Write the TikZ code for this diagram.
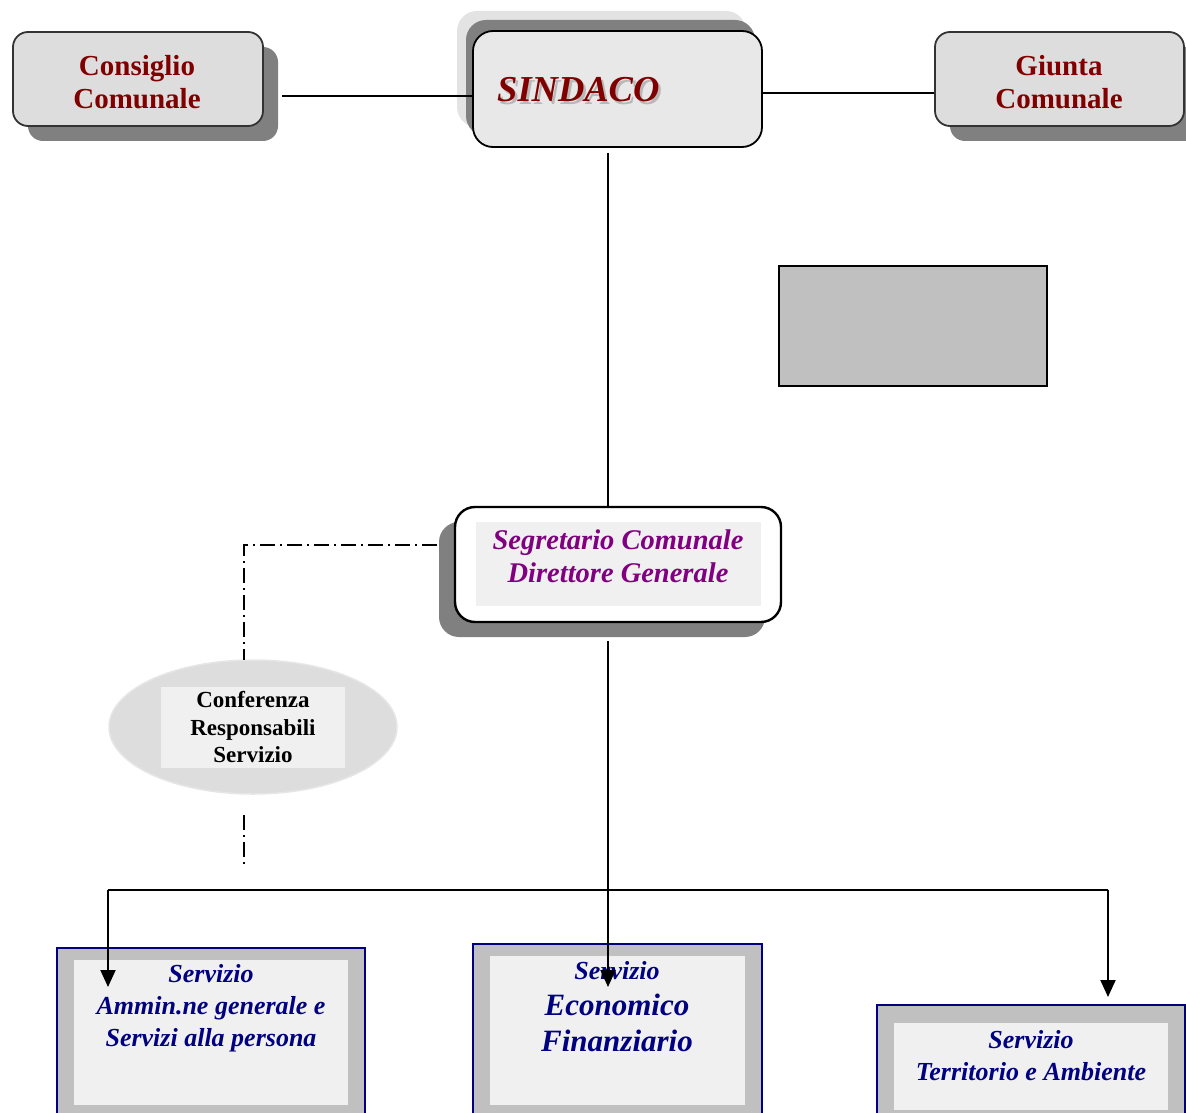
\documentclass[tikz,border=0pt]{standalone}
\usepackage{fontspec}
\setmainfont{Liberation Serif}
\usetikzlibrary{shadows,arrows.meta,shapes.geometric}
\definecolor{boxgray}{HTML}{DDDDDD}
\definecolor{sindgray}{HTML}{E8E8E8}
\definecolor{shadowgray}{HTML}{808080}
\definecolor{lightshadow}{HTML}{E3E3E3}
\definecolor{darkred}{HTML}{800000}
\definecolor{purpletxt}{HTML}{800080}
\definecolor{navytxt}{HTML}{000080}
\definecolor{innerfill}{HTML}{F0F0F0}
\definecolor{midgray}{HTML}{C0C0C0}
\definecolor{ellgray}{HTML}{DDDDDD}
\definecolor{ellborder}{HTML}{E6E6E6}
\definecolor{txtshadow}{HTML}{B8B8B8}
\begin{document}
\begin{tikzpicture}[x=1pt,y=-1pt,
  topbox/.style={rounded corners=15pt, draw=black!80, line width=1.8pt, fill=boxgray,
    inner sep=0pt},
  toptext/.style={align=center, inner sep=0pt, text=darkred,
    font=\bfseries\fontsize{29}{33}\selectfont},
  shadowdr/.style={general shadow={shadow xshift=15pt, shadow yshift=-15pt, fill=shadowgray}},
  sindbox/.style={rounded corners=20pt, draw=black, line width=1.8pt, fill=sindgray,
    general shadow={shadow xshift=-16pt, shadow yshift=20pt, fill=lightshadow},
    general shadow={shadow xshift=-7pt, shadow yshift=11pt, fill=shadowgray}},
  segbox/.style={rounded corners=20pt, draw=black, line width=2.4pt, fill=white,
    general shadow={shadow xshift=-16pt, shadow yshift=-15pt, fill=shadowgray}},
  innerbox/.style={fill=innerfill, draw=none, inner sep=0pt},
  servouter/.style={draw=navytxt, line width=2pt, fill=midgray, inner sep=0pt},
  servtext/.style={align=center, text=navytxt, inner sep=0pt,
    font=\bfseries\itshape\fontsize{26}{32}\selectfont},
  conn/.style={line width=1.5pt, draw=black},
  bconn/.style={line width=2pt, draw=black},
  arr/.style={bconn, -{Triangle[length=17pt,width=15pt]}},
  dashdot/.style={line width=1.4pt, dash pattern=on 15pt off 5pt on 2pt off 5pt}
]
\useasboundingbox (0,0) rectangle (1186,1113);

% top row
\node[topbox, shadowdr, minimum width=250pt, minimum height=94pt] (consiglio) at (138,79) {};
\node[toptext] (consigliotxt) at (137,82) {Consiglio\\Comunale};
\node[topbox, shadowdr, minimum width=249pt, minimum height=94pt] (giunta) at (1059.5,79) {};
\node[toptext] (giuntatxt) at (1059,82) {Giunta\\Comunale};
\node[sindbox, minimum width=289pt, minimum height=116pt, inner sep=0pt] (sindaco) at (617.5,89) {};
\node[anchor=west, inner sep=0pt, text=darkred, font=\bfseries\itshape\fontsize{36.5}{40}\selectfont] (sindtxt) at (497,91)
  {\rlap{\hspace{2.5pt}\raisebox{-2.5pt}{\color{txtshadow}SINDACO}}SINDACO};

% gray rectangle
\node[draw=black, line width=2pt, fill=midgray, minimum width=268pt, minimum height=120pt, inner sep=0pt] (grayrect) at (913,326) {};

% segretario
\node[segbox, minimum width=326pt, minimum height=115pt, inner sep=0pt] (segretario) at (618,564.5) {};
\node[innerbox, minimum width=285pt, minimum height=84pt] (seginner) at (618.5,564) {};
\node[align=center, text=purpletxt, inner sep=0pt,
  font=\bfseries\itshape\fontsize{28.5}{33}\selectfont] (segtxt) at (618,556) {Segretario Comunale\\Direttore Generale};

% conferenza
\node[ellipse, fill=ellgray, draw=ellborder, line width=1.5pt, minimum width=288pt, minimum height=134pt, inner sep=0pt] (conferenza) at (253,727) {};
\node[innerbox, minimum width=184pt, minimum height=81pt, align=center,
  font=\bfseries\fontsize{23}{27.5}\selectfont] (conftxt) at (253,727.5) {Conferenza\\Responsabili\\Servizio};

% service boxes
\node[servouter, minimum width=308pt, minimum height=177pt] (servA) at (211,1036.5) {};
\node[innerbox, minimum width=274pt, minimum height=145pt] (servAin) at (211,1032.5) {};
\node[servtext] (servAtxt) at (211,1008) {Servizio\\Ammin.ne generale e\\Servizi alla persona};

\node[servouter, minimum width=289pt, minimum height=181pt] (servB) at (617.5,1034.5) {};
\node[innerbox, minimum width=255pt, minimum height=149pt] (servBin) at (617.5,1030.5) {};
\node[servtext, font=\bfseries\itshape\fontsize{31}{36}\selectfont] (servBtxt) at (617,1007) {{\fontsize{26}{30}\selectfont Servizio}\\Economico\\Finanziario};

\node[servouter, minimum width=308pt, minimum height=120pt] (servC) at (1031,1065) {};
\node[innerbox, minimum width=274pt, minimum height=87pt] (servCin) at (1031,1066.5) {};
\node[servtext] (servCtxt) at (1031,1056) {Servizio\\Territorio e Ambiente};

% connectors top
\coordinate (cL) at (282,96);
\draw[conn] (cL) -- (sindaco.west |- cL);
\draw[conn] (sindaco.east |- 0,93) -- (giunta.west |- 0,93);
\draw[conn] (608,153) -- (segretario.north -| 608,0);

% dash-dot to conferenza
\coordinate (dd1) at (437,545);
\coordinate (dd2) at (244,545);
\coordinate (dd3) at (244,660);
\draw[dashdot] (dd1) -- (dd2) -- (dd3);
\draw[dashdot] (244,815) -- (244,866);

% bus and arrows
\coordinate (busL) at (108,890);
\coordinate (busR) at (1108,890);
\coordinate (segS) at (608,641);
\draw[bconn] (busL) -- (busR);
\draw[arr] (segS) -- (608,987);
\draw[arr] (busL) -- (108,987);
\draw[arr] (busR) -- (1108,997);
\end{tikzpicture}
\end{document}
